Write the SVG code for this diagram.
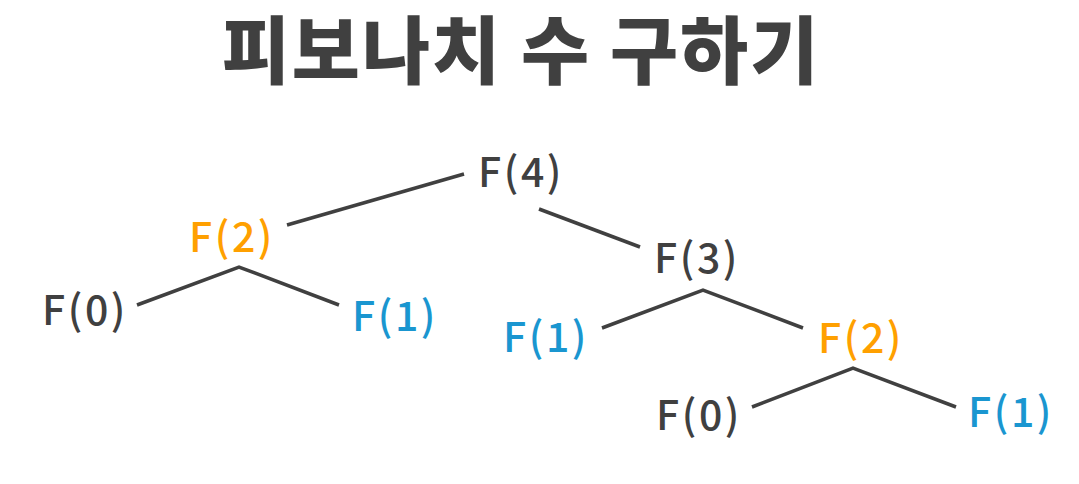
<svg xmlns="http://www.w3.org/2000/svg" width="1079" height="484" viewBox="0 0 1079 484">
<style>
.t{font-family:"Noto Sans CJK KR","Noto Sans",sans-serif;font-weight:900;font-size:74px;letter-spacing:2px;fill:#404040}
.n{font-family:"Noto Sans CJK KR","Noto Sans",sans-serif;font-weight:500;font-size:41px;letter-spacing:2.5px;text-anchor:middle}
.d{fill:#404040}.o{fill:#FFA000}.b{fill:#1A96D0}
.e{stroke:#404040;stroke-width:3.5;fill:none;stroke-linecap:butt;stroke-linejoin:miter}
</style>
<rect width="1079" height="484" fill="#FFFFFF"/>
<text class="t" x="521" y="78" text-anchor="middle">피보나치 수 구하기</text>
<g id="connectors">
<line class="e" x1="287" y1="225" x2="464" y2="174"/>
<line class="e" x1="539" y1="209" x2="640" y2="247"/>
<polyline class="e" points="137,305 239,267 339,305"/>
<polyline class="e" points="602,328 703,290 803,328"/>
<polyline class="e" points="752,407 853,368 956,407"/>
</g>
<g id="f4"><text class="n d" x="521" y="187">F(4)</text></g>
<g id="f2a"><text class="n o" x="232" y="252">F(2)</text></g>
<g id="f3"><text class="n d" x="697" y="273">F(3)</text></g>
<g id="f0a"><text class="n d" x="85" y="325">F(0)</text></g>
<g id="f1a"><text class="n b" x="395" y="331">F(1)</text></g>
<g id="f1b"><text class="n b" x="546" y="352">F(1)</text></g>
<g id="f2b"><text class="n o" x="861" y="353">F(2)</text></g>
<g id="f0b"><text class="n d" x="699" y="430">F(0)</text></g>
<g id="f1c"><text class="n b" x="1011" y="427">F(1)</text></g>
</svg>
